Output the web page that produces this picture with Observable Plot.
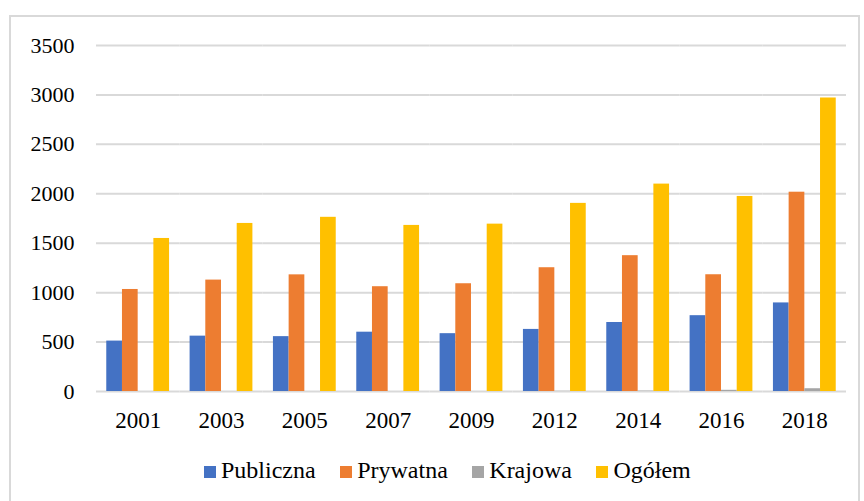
<!DOCTYPE html>
<html>
<head>
<meta charset="utf-8">
<script src="https://cdn.jsdelivr.net/npm/d3@7"></script>
<script src="https://cdn.jsdelivr.net/npm/@observablehq/plot@0.6"></script>
<style>
  html, body { margin: 0; padding: 0; background: #fff; }
  body { width: 864px; height: 501px; position: relative; overflow: hidden; font-family: "Liberation Serif", "Times New Roman", Times, "DejaVu Serif", serif; }
  #frame { position: absolute; left: 9px; top: 15px; width: 851px; height: 500px; border: 2px solid #d9d9d9; box-sizing: border-box; }
  #chart { position: absolute; left: 0; top: 0; }
  #chart svg text { font-family: "Liberation Serif", "Times New Roman", Times, "DejaVu Serif", serif; }
  #legend { position: absolute; left: 204px; top: 458px; display: flex; gap: 24.5px; font-size: 24px; line-height: 24px; color: #000; white-space: nowrap; }
  #legend .sw { display: inline-block; width: 12px; height: 12px; margin-right: 5px; vertical-align: baseline; }
</style>
</head>
<body>
<div id="frame"></div>
<div id="chart"></div>
<div id="legend"></div>
<script>
const years = ["2001", "2003", "2005", "2007", "2009", "2012", "2014", "2016", "2018"];
const seriesNames = ["Publiczna", "Prywatna", "Krajowa", "Ogółem"];
const colors = ["#4472C4", "#ED7D31", "#A5A5A5", "#FFC000"];
const publiczna = [510, 560, 555, 600, 585, 628, 698, 767, 896];
const prywatna = [1032, 1127, 1180, 1060, 1090, 1252, 1374, 1181, 2016];
const krajowa = [0, 0, 0, 0, 0, 2, 4, 12, 28];
const ogolem = [1548, 1700, 1762, 1680, 1693, 1903, 2098, 1973, 2969];
const yTicks = [0, 500, 1000, 1500, 2000, 2500, 3000, 3500];

const seriesValues = [publiczna, prywatna, krajowa, ogolem];
const data = [];
years.forEach((yr, i) => {
  seriesNames.forEach((s, j) => {
    data.push({year: yr, series: s, value: seriesValues[j][i]});
  });
});

const serif = "'Liberation Serif', 'Times New Roman', Times, 'DejaVu Serif', serif";
const chart = Plot.plot({
  width: 864,
  height: 440,
  marginLeft: 96,
  marginRight: 18,
  marginTop: 45,
  marginBottom: 49,
  style: {fontFamily: serif, color: "#000", background: "transparent", overflow: "visible"},
  fx: {domain: years, padding: 0, round: false, label: null, axis: null},
  x: {domain: seriesNames, paddingInner: 0, paddingOuter: 0.654, round: false, axis: null},
  y: {domain: [0, 3500], axis: null},
  color: {domain: seriesNames, range: colors},
  marks: [
    Plot.ruleY(yTicks, {stroke: "#d9d9d9", strokeWidth: 2, strokeOpacity: 1}),
    Plot.barY(data, {fx: "year", x: "series", y: "value", fill: "series", inset: 0}),
    Plot.axisY({ticks: yTicks, tickSize: 0, tickPadding: 22, fontSize: 22, label: null, tickFormat: d => String(d)}),
    Plot.axisFx({anchor: "bottom", tickSize: 0, tickPadding: 20, fontSize: 23, label: null})
  ]
});
document.getElementById("chart").appendChild(chart);

const legend = document.getElementById("legend");
seriesNames.forEach((s, j) => {
  const item = document.createElement("span");
  const sw = document.createElement("span");
  sw.className = "sw";
  sw.style.background = colors[j];
  item.appendChild(sw);
  item.appendChild(document.createTextNode(s));
  legend.appendChild(item);
});
</script>
</body>
</html>
